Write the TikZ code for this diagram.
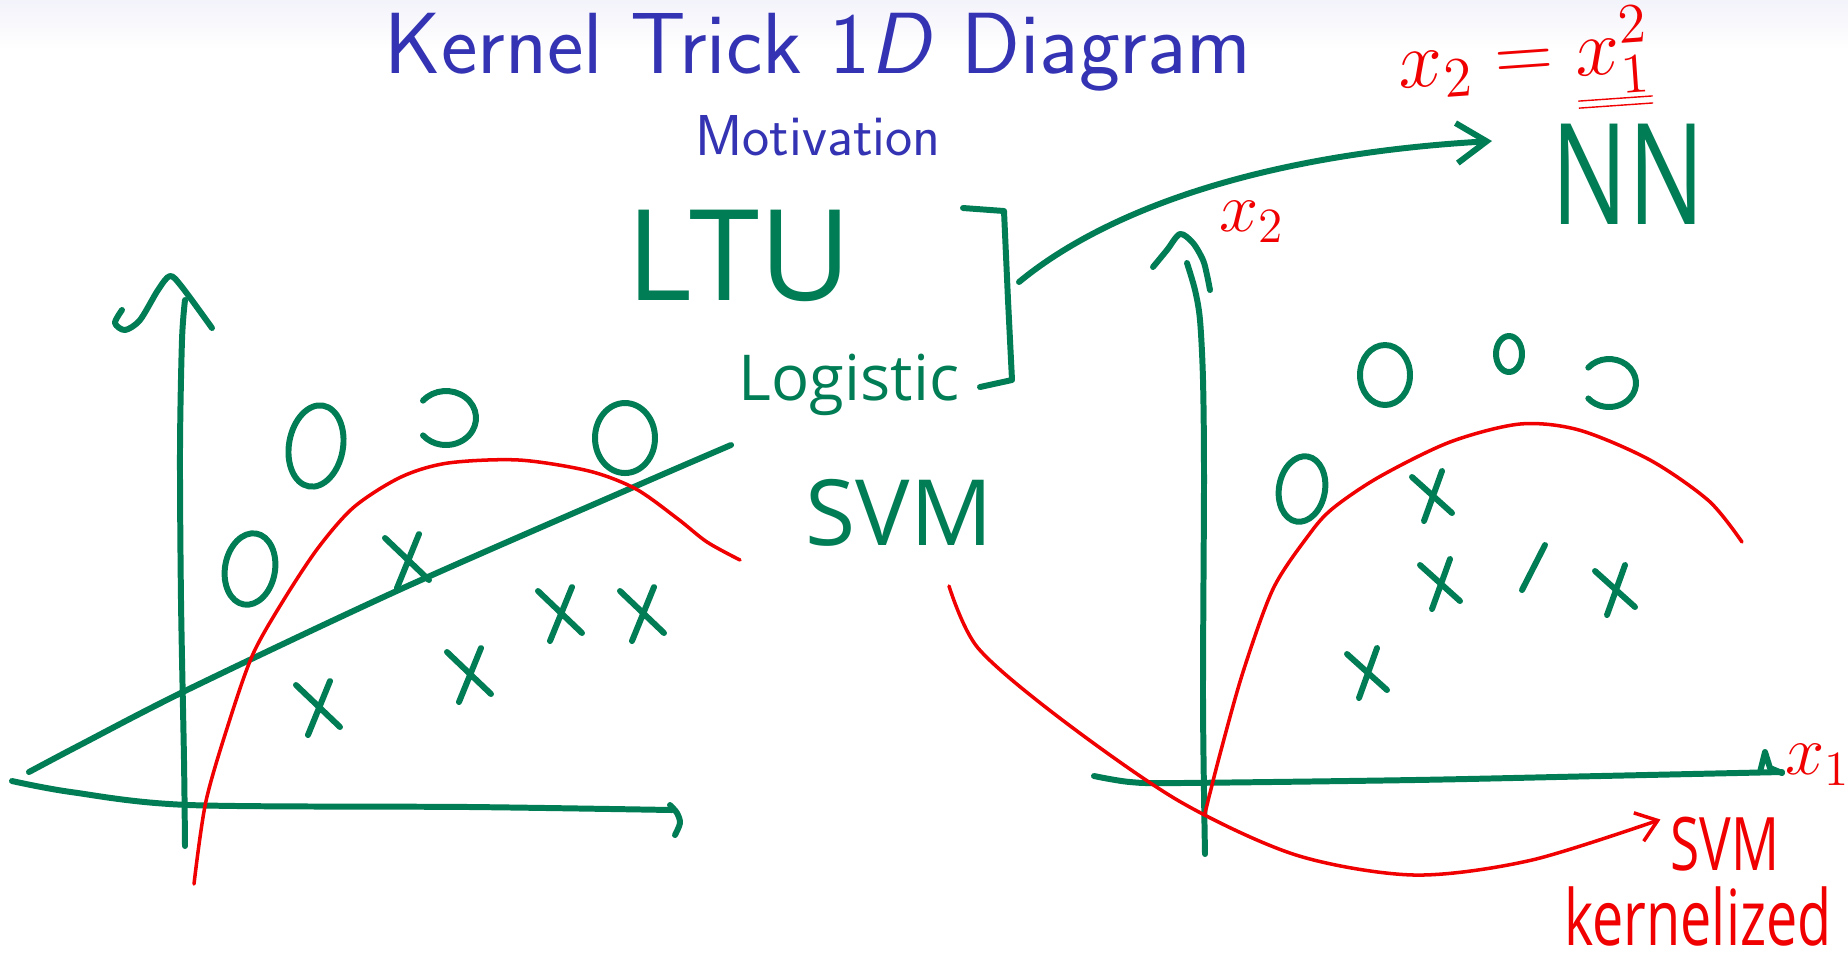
\documentclass[tikz,border=0pt]{standalone}
\usepackage{fix-cm}
\usepackage{fontspec}
\usepackage{tikz}
\usetikzlibrary{arrows.meta,positioning,calc}
\newfontfamily\handfont{Open Sans}
\newfontfamily\handnarrow[FakeStretch=0.72]{Open Sans}
\definecolor{penblue}{RGB}{51,51,179}
\definecolor{pengreen}{RGB}{0,125,85}
\definecolor{penred}{RGB}{240,0,0}

\begin{document}
\begin{tikzpicture}[x=0.01cm, y=-0.01cm,
    gpen/.style={draw=pengreen, line width=1.7pt, line cap=round, line join=round},
    rpen/.style={draw=penred, line width=1pt, line cap=round, line join=round},
    garr/.style={gpen, -{Straight Barb[length=3mm,width=4mm]}},
    rarr/.style={rpen, -{Straight Barb[length=2mm,width=3mm]}},
    gtext/.style={text=pengreen, inner sep=0pt},
    rtext/.style={text=penred, inner sep=0pt},
    heading/.style={text=penblue, anchor=base}
]
\fill[white] (0,0) rectangle (1848,959);
\shade[top color=penblue!6, bottom color=white] (0,0) rectangle (1848,50);
\useasboundingbox (0,0) rectangle (1848,959);

\node[heading, font=\sffamily\fontsize{24.7}{28}\selectfont] (title) at (818,73) {Kernel Trick 1\textit{D} Diagram};
\node[heading, font=\sffamily\fontsize{16.4}{19}\selectfont] (sub) at (818,155) {Motivation};

% left plot
\draw[gpen] plot[smooth] coordinates {(185,846) (184,760) (181,600) (180,450) (182,340) (185,300)};
\draw[gpen] plot[smooth] coordinates {(122,310) (115,323) (125,330) (140,320) (158,290) (170,276) (182,287) (212,328)};
\draw[gpen] plot[smooth] coordinates {(12,781) (71,792) (189,805) (471,807) (672,810)};
\draw[gpen] plot[smooth] coordinates {(670,805) (677,813) (680,823) (675,835)};
\draw[gpen] plot[smooth] coordinates {(29,772) (80,745) (189,689) (401,589) (636,486) (731,445)};
\draw[rpen] plot[smooth] coordinates {(194,884) (206,801) (230,719) (253,654) (283,601) (318,548) (354,507) (401,477) (448,463) (519,460) (589,471) (636,489) (678,519) (707,542) (740,560)};
\foreach \px/\py/\rx/\ry/\r in {316/446/27/41/-10, 625/438/30/35/0, 250/569/25/36/-10}
  \draw[gpen, rotate around={\r:(\px,\py)}] (\px,\py) ellipse[x radius=\rx, y radius=\ry];
\draw[gpen] (446,418) ++(-140:30 and 27) arc[start angle=-140, end angle=140, x radius=30, y radius=27];
\foreach \px/\py in {407/560, 318/707, 469/674, 560/613, 642/613}
  \draw[gpen] (\px-22,\py-22) -- (\px+22,\py+20) (\px+12,\py-26) -- (\px-10,\py+28);

% labels in the middle
\node[gtext, font=\handfont\fontsize{36}{40}\selectfont] (ltu) at (739,256) {LTU};
\node[gtext, font=\handfont\fontsize{18}{20}\selectfont] (logi) at (849,385) {Logistic};
\node[gtext, font=\handfont\fontsize{26}{30}\selectfont] (svm) at (899,513) {SVM};
\node[gtext, font=\handnarrow\fontsize{40}{44}\selectfont] (nn) at (1628,174) {NN};
\node[rtext, font=\fontsize{23}{27}\selectfont, rotate=4] (xmap) at (1524,64) {$x_2 = \underline{\underline{x_1^2}}$};

\draw[gpen] (963,208) -- (1004,211) -- (1008,300) -- (1012,380) -- (980,387);
\coordinate (brk) at (1019,282);
\coordinate (nntip) at (1492,141);
\draw[garr] (brk) .. controls (1100,215) and (1250,155) .. (nntip);

% right plot
\draw[gpen] plot[smooth] coordinates {(1205,854) (1203,700) (1204,480) (1203,380) (1200,320) (1195,290) (1187,263)};
\draw[gpen] plot[smooth] coordinates {(1153,267) (1167,250) (1180,234) (1193,243) (1203,260) (1207,275) (1210,290)};
\draw[gpen] plot[smooth] coordinates {(1094,776) (1130,782) (1179,783) (1414,780) (1600,776) (1782,772)};
\draw[gpen] (1760,772) -- (1765,752) -- (1770,768) -- (1782,773);
\node[rtext, font=\fontsize{20}{24}\selectfont] (xtwo) at (1252,222) {$x_2$};
\node[rtext, font=\fontsize{20}{24}\selectfont] (xone) at (1818,765) {$x_1$};
\draw[rpen] plot[smooth] coordinates {(1205,813) (1220,754) (1243,672) (1273,589) (1308,536) (1332,509) (1379,477) (1450,442) (1520,424) (1579,430) (1650,460) (1709,501) (1742,542)};
\foreach \px/\py/\rx/\ry/\r in {1385/375/25/30/0, 1509/354/13/18/0, 1302/489/23/33/-10}
  \draw[gpen, rotate around={\r:(\px,\py)}] (\px,\py) ellipse[x radius=\rx, y radius=\ry];
\draw[gpen] (1609,383) ++(-140:27 and 24) arc[start angle=-140, end angle=140, x radius=27, y radius=24];
\foreach \px/\py in {1432/495, 1440/583, 1367/672, 1615/589}
  \draw[gpen] (\px-20,\py-18) -- (\px+20,\py+18) (\px+10,\py-24) -- (\px-8,\py+26);
\draw[gpen] (1545,545) -- (1522,590);

\node[rtext, font=\handnarrow\fontsize{21}{25}\selectfont] (svmk) at (1725,844) {SVM};
\node[rtext, font=\handnarrow\fontsize{22}{26}\selectfont] (kern) at (1698,916) {kernelized};
\coordinate (svmtail) at (949,586);
\draw[rarr, shorten >=1mm] plot[smooth] coordinates {(svmtail) (978,648) (1061,719) (1179,801) (1296,855) (1414,875) (1532,860) (svmk.north west)};
\end{tikzpicture}
\end{document}
